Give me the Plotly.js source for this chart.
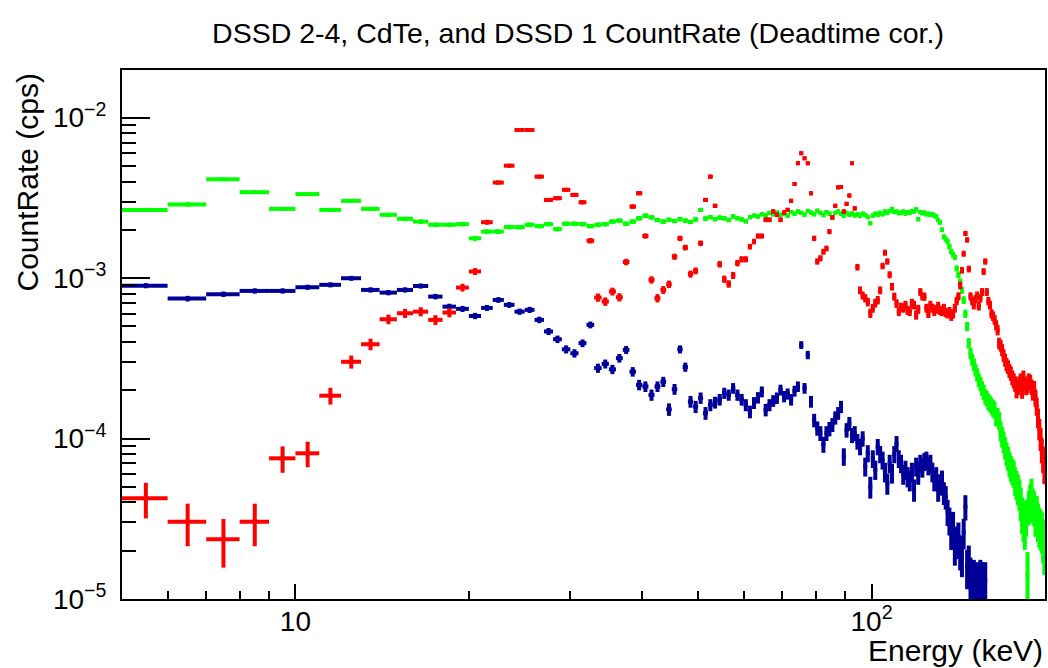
<!DOCTYPE html>
<html><head><meta charset="utf-8">
<script src="https://cdn.plot.ly/plotly-3.0.1.min.js"></script>
<style>html,body{margin:0;padding:0;background:#fff}#chart{width:1048px;height:668px}</style>
</head><body><div id="chart"></div>
<script>
const chartTitle = 'DSSD 2-4, CdTe, and DSSD 1 CountRate (Deadtime cor.)';
const xTitle = 'Energy (keV)';
const yTitle = 'CountRate (cps)';
const seriesNames = ['DSSD 2-4', 'CdTe', 'DSSD 1'];

// histogram binning: 1 keV bins starting at 5 keV
const binStart = 5;
const binWidth = 1;

// count rate per bin (cps), bins 5-6, 6-7, ... 199-200 keV
const greenRate = [
  2.66e-3, 2.88e-3, 4.13e-3, 3.43e-3, 2.70e-3, 3.34e-3, 2.66e-3, 3.03e-3, 2.70e-3, 2.48e-3,
  2.34e-3, 2.25e-3, 2.15e-3, 2.15e-3, 2.17e-3, 1.77e-3, 1.95e-3, 1.95e-3, 2.08e-3, 2.08e-3,
  2.15e-3, 2.11e-3, 2.17e-3, 2.02e-3, 2.18e-3, 2.18e-3, 2.17e-3, 2.11e-3, 2.15e-3, 2.17e-3,
  2.25e-3, 2.28e-3, 2.18e-3, 2.25e-3, 2.36e-3, 2.45e-3, 2.39e-3, 2.30e-3, 2.25e-3, 2.31e-3,
  2.27e-3, 2.33e-3, 2.28e-3, 2.24e-3, 2.32e-3, 2.66e-3, 2.35e-3, 2.40e-3, 2.33e-3, 2.38e-3,
  2.36e-3, 2.30e-3, 2.42e-3, 2.36e-3, 2.32e-3, 2.26e-3, 2.40e-3, 2.45e-3, 2.42e-3, 2.50e-3,
  2.46e-3, 2.55e-3, 2.50e-3, 2.56e-3, 2.48e-3, 2.52e-3, 2.45e-3, 2.58e-3, 2.52e-3, 2.60e-3,
  2.55e-3, 2.48e-3, 2.62e-3, 2.56e-3, 2.50e-3, 2.63e-3, 2.55e-3, 2.47e-3, 2.58e-3, 2.52e-3,
  2.40e-3, 2.55e-3, 2.60e-3, 2.52e-3, 2.45e-3, 2.55e-3, 2.48e-3, 2.53e-3, 2.46e-3, 2.50e-3,
  2.44e-3, 2.52e-3, 2.47e-3, 2.40e-3, 2.20e-3, 2.45e-3, 2.52e-3, 2.48e-3, 2.55e-3, 2.50e-3,
  2.60e-3, 2.55e-3, 2.62e-3, 2.70e-3, 2.58e-3, 2.60e-3, 2.54e-3, 2.56e-3, 2.60e-3, 2.52e-3,
  2.58e-3, 2.55e-3, 2.62e-3, 2.60e-3, 2.68e-3, 2.33e-3, 2.58e-3, 2.54e-3, 2.56e-3, 2.50e-3,
  2.52e-3, 2.48e-3, 2.50e-3, 2.45e-3, 2.42e-3, 2.30e-3, 2.22e-3, 2.00e-3, 1.81e-3, 1.75e-3,
  1.69e-3, 1.57e-3, 1.46e-3, 1.40e-3, 1.35e-3, 1.15e-3, 1.05e-3, 9.5e-4, 8.4e-4, 7.3e-4,
  6.0e-4, 5.0e-4, 3.93e-4, 3.4e-4, 3.1e-4, 2.9e-4, 2.68e-4, 2.5e-4, 2.32e-4, 2.2e-4,
  2.06e-4, 1.95e-4, 1.83e-4, 1.78e-4, 1.70e-4, 1.66e-4, 1.60e-4, 1.55e-4, 1.51e-4, 1.37e-4,
  1.38e-4, 1.30e-4, 1.12e-4, 1.03e-4, 9.6e-5, 8.8e-5, 8.1e-5, 7.6e-5, 7.0e-5, 6.6e-5,
  6.3e-5, 6.1e-5, 5.5e-5, 5.2e-5, 4.9e-5, 4.57e-5, 4.0e-5, 3.42e-5, 3.1e-5, 2.82e-5,
  3.3e-5, 1.4e-5, 3.8e-5, 4.2e-5, 4.6e-5, 3.9e-5, 3.76e-5, 3.3e-5, 3.5e-5, 3.1e-5,
  2.9e-5, 2.8e-5, 2.7e-5, 2.4e-5, 2.1e-5
];

const redRate = [
  4.24e-5, 3.03e-5, 2.36e-5, 3.03e-5, 7.53e-5, 8.09e-5, 1.85e-4, 3.01e-4, 3.87e-4, 5.54e-4,
  6.04e-4, 6.18e-4, 5.49e-4, 6.10e-4, 8.73e-4, 1.10e-3, 2.23e-3, 3.94e-3, 5.02e-3, 8.38e-3,
  8.38e-3, 4.29e-3, 3.07e-3, 3.15e-3, 3.55e-3, 3.30e-3, 2.97e-3, 1.71e-3, 7.57e-4, 7.15e-4,
  8.25e-4, 7.60e-4, 1.26e-3, 2.79e-3, 3.38e-3, 1.83e-3, 9.75e-4, 7.50e-4, 8.44e-4, 9.16e-4,
  1.36e-3, 1.77e-3, 1.55e-3, 1.06e-3, 1.11e-3, 1.65e-3, 3.07e-3, 4.29e-3, 2.82e-3, 1.22e-3,
  9.85e-4, 9.2e-4, 1.04e-3, 1.24e-3, 1.31e-3, 1.31e-3, 1.57e-3, 1.69e-3, 1.83e-3, 1.83e-3,
  2.31e-3, 2.31e-3, 2.60e-3, 2.48e-3, 2.31e-3, 2.56e-3, 2.66e-3, 3.03e-3, 3.86e-3, 5.20e-3,
  6.0e-3, 5.58e-3, 5.20e-3, 3.38e-3, 1.77e-3, 1.27e-3, 1.33e-3, 1.46e-3, 1.53e-3, 1.95e-3,
  2.39e-3, 2.82e-3, 3.68e-3, 3.70e-3, 2.60e-3, 2.9e-3, 3.27e-3, 5.2e-3, 2.72e-3, 1.17e-3,
  8.4e-4, 7.8e-4, 7.5e-4, 7.1e-4, 6.04e-4, 6.5e-4, 7.0e-4, 7.3e-4, 8.4e-4, 1.19e-3,
  1.44e-3, 1.27e-3, 1.05e-3, 8.85e-4, 7.67e-4, 6.95e-4, 6.2e-4, 6.6e-4, 6.5e-4, 6.8e-4,
  6.3e-4, 6.2e-4, 7.0e-4, 6.8e-4, 5.9e-4, 6.4e-4, 8.2e-4, 7.7e-4, 7.67e-4, 6.5e-4,
  6.04e-4, 6.8e-4, 6.5e-4, 6.2e-4, 6.4e-4, 6.7e-4, 6.3e-4, 6.2e-4, 6.5e-4, 6.1e-4,
  6.0e-4, 6.2e-4, 5.8e-4, 6.0e-4, 6.5e-4, 7.2e-4, 7.7e-4, 9.0e-4, 1.12e-3, 1.42e-3,
  1.90e-3, 1.73e-3, 1.14e-3, 7.7e-4, 7.2e-4, 6.8e-4, 7.4e-4, 7.8e-4, 6.7e-4, 7.5e-4,
  8.2e-4, 1.10e-3, 1.27e-3, 8.2e-4, 7.2e-4, 6.8e-4, 6.0e-4, 5.8e-4, 5.5e-4, 5.1e-4,
  4.75e-4, 3.93e-4, 3.8e-4, 3.57e-4, 3.3e-4, 3.09e-4, 2.9e-4, 2.8e-4, 2.65e-4, 2.55e-4,
  2.4e-4, 2.3e-4, 2.2e-4, 2.01e-4, 2.1e-4, 2.2e-4, 2.3e-4, 2.0e-4, 2.4e-4, 2.2e-4,
  2.1e-4, 2.15e-4, 2.3e-4, 2.25e-4, 2.1e-4, 1.95e-4, 2.05e-4, 1.8e-4, 1.59e-4, 1.35e-4,
  1.15e-4, 1.0e-4, 8.5e-5, 7.5e-5, 6.5e-5
];

const blueRate = [
  8.97e-4, 7.45e-4, 7.94e-4, 8.32e-4, 8.32e-4, 8.77e-4, 9.08e-4, 9.98e-4, 8.44e-4, 8.12e-4,
  8.44e-4, 8.93e-4, 7.67e-4, 6.64e-4, 6.43e-4, 5.81e-4, 6.52e-4, 7.31e-4, 6.81e-4, 6.18e-4,
  6.34e-4, 5.49e-4, 4.65e-4, 4.16e-4, 3.60e-4, 3.40e-4, 3.93e-4, 5.11e-4, 2.75e-4, 2.92e-4,
  2.70e-4, 3.17e-4, 3.57e-4, 2.61e-4, 2.16e-4, 2.11e-4, 1.87e-4, 2.11e-4, 2.26e-4, 1.52e-4,
  2.03e-4, 3.60e-4, 2.79e-4, 1.70e-4, 1.58e-4, 1.79e-4, 1.44e-4, 1.62e-4, 1.68e-4, 1.75e-4,
  1.92e-4, 1.87e-4, 2.06e-4, 1.87e-4, 1.75e-4, 1.62e-4, 1.47e-4, 1.67e-4, 1.80e-4, 1.96e-4,
  1.51e-4, 1.62e-4, 1.72e-4, 1.79e-4, 2.01e-4, 1.83e-4, 1.90e-4, 1.75e-4, 1.98e-4, 2.11e-4,
  3.83e-4, 2.06e-4, 3.32e-4, 1.70e-4, 1.30e-4, 1.16e-4, 1.08e-4, 9.2e-5, 1.08e-4, 1.15e-4,
  1.22e-4, 1.35e-4, 1.44e-4, 1.58e-4, 7.73e-5, 1.13e-4, 1.24e-4, 1.05e-4, 1.08e-4, 9.6e-5,
  8.9e-5, 1.0e-4, 6.7e-5, 8.1e-5, 5.0e-5, 7.5e-5, 6.4e-5, 8.9e-5, 8.0e-5, 7.35e-5,
  6.2e-5, 5.26e-5, 7.0e-5, 6.1e-5, 8.0e-5, 9.3e-5, 7.5e-5, 7.0e-5, 6.0e-5, 6.4e-5,
  5.8e-5, 5.5e-5, 6.2e-5, 4.8e-5, 6.7e-5, 6.0e-5, 7.0e-5, 6.6e-5, 7.2e-5, 7.35e-5,
  6.8e-5, 7.0e-5, 6.2e-5, 5.5e-5, 5.8e-5, 4.8e-5, 5.2e-5, 5.5e-5, 4.6e-5, 4.33e-5,
  3.5e-5, 3.1e-5, 2.58e-5, 2.9e-5, 2.12e-5, 2.3e-5, 2.45e-5, 2.0e-5, 1.84e-5, 2.6e-5,
  3.76e-5, 1.59e-5, 1.7e-5, 1.4e-5, 1.3e-5, 1.35e-5, 1.25e-5, 1.3e-5, 1.2e-5, 1.35e-5,
  1.3e-5, 1.25e-5, 1.3e-5, null, null, null, null, null, null, null,
  null, null, null, null, null, null, null, null, null, null,
  null, null, null, null, null, null, null, null, null, null,
  null, null, null, null, null, null, null, null, null, null,
  null, null, null, null, null
];

// statistical error scale per series: sigma = k * sqrt(rate)
const errScale = { green: 1.5e-3, red: 1.63e-3, blue: 1.1e-3 };

const xTickVals = [10, 100];
const xTickText = ['10', '10<sup>2</sup>'];
const xMinorVals = [6, 7, 8, 9, 20, 30, 40, 50, 60, 70, 80, 90];
const yTickVals = [1e-5, 1e-4, 1e-3, 1e-2];
const yTickText = ['10<sup>\u22125</sup>', '10<sup>\u22124</sup>', '10<sup>\u22123</sup>', '10<sup>\u22122</sup>'];
const yMinorVals = [2e-5,3e-5,4e-5,5e-5,6e-5,7e-5,8e-5,9e-5,2e-4,3e-4,4e-4,5e-4,6e-4,7e-4,8e-4,9e-4,2e-3,3e-3,4e-3,5e-3,6e-3,7e-3,8e-3,9e-3];

const energy = greenRate.map((_, i) => binStart + binWidth * (i + 0.5));

function makeTrace(name, rate, k, color) {
  return {
    type: 'scatter', mode: 'markers', name: name,
    x: energy, y: rate,
    marker: { color: color, size: 4, symbol: 'square' },
    error_x: { type: 'constant', value: binWidth / 2, color: color, thickness: 4, width: 0 },
    error_y: { type: 'data', array: rate.map(v => v == null ? null : k * Math.sqrt(v)), color: color, thickness: 4, width: 0 },
    cliponaxis: true
  };
}

const data = [
  makeTrace(seriesNames[0], greenRate, errScale.green, '#00ff00'),
  makeTrace(seriesNames[2], blueRate, errScale.blue, '#000099'),
  makeTrace(seriesNames[1], redRate, errScale.red, '#ff0000')
];

const font = 'Liberation Sans, Arial, Helvetica, sans-serif';
const layout = {
  width: 1048, height: 668,
  margin: { l: 122, r: 3, t: 70, b: 69, pad: 0 },
  paper_bgcolor: '#ffffff', plot_bgcolor: '#ffffff',
  showlegend: false,
  font: { family: font, color: '#000', size: 28 },
  title: { text: chartTitle, font: { family: font, size: 28.5, color: '#000' },
           xref: 'container', x: 578 / 1048, xanchor: 'center',
           yref: 'container', y: 1 - 33 / 668, yanchor: 'middle' },
  xaxis: {
    type: 'log', range: [Math.log10(5), Math.log10(200)],
    showline: true, mirror: true, linecolor: '#000', linewidth: 2,
    ticks: 'inside', ticklen: 15, tickwidth: 2, tickcolor: '#000',
    tickmode: 'array', tickvals: xTickVals, ticktext: xTickText,
    tickfont: { family: font, size: 28 }, ticklabelstandoff: -4,
    minor: { tickmode: 'array', tickvals: xMinorVals, ticks: 'inside', ticklen: 8, tickwidth: 2, tickcolor: '#000', showgrid: false },
    showgrid: false, zeroline: false
  },
  yaxis: {
    type: 'log', range: [-5, -1.703],
    showline: true, mirror: true, linecolor: '#000', linewidth: 2,
    ticks: 'inside', ticklen: 28, tickwidth: 2, tickcolor: '#000',
    tickmode: 'array', tickvals: yTickVals, ticktext: yTickText,
    tickfont: { family: font, size: 28 }, ticklabelstandoff: 8,
    minor: { tickmode: 'array', tickvals: yMinorVals, ticks: 'inside', ticklen: 14, tickwidth: 2, tickcolor: '#000', showgrid: false },
    showgrid: false, zeroline: false
  },
  annotations: [
    { text: yTitle, xref: 'paper', yref: 'paper', x: (27 - 122) / 923, y: (599 - 182.5) / 529,
      xanchor: 'center', yanchor: 'middle', textangle: -90, showarrow: false,
      font: { family: font, size: 30, color: '#000' } },
    { text: xTitle, xref: 'paper', yref: 'paper', x: (1045 - 122) / 923, y: (599 - 650) / 529,
      xanchor: 'right', yanchor: 'middle', showarrow: false,
      font: { family: font, size: 30, color: '#000' } }
  ]
};

Plotly.newPlot('chart', data, layout, { displayModeBar: false, staticPlot: true });
</script>
</body></html>
